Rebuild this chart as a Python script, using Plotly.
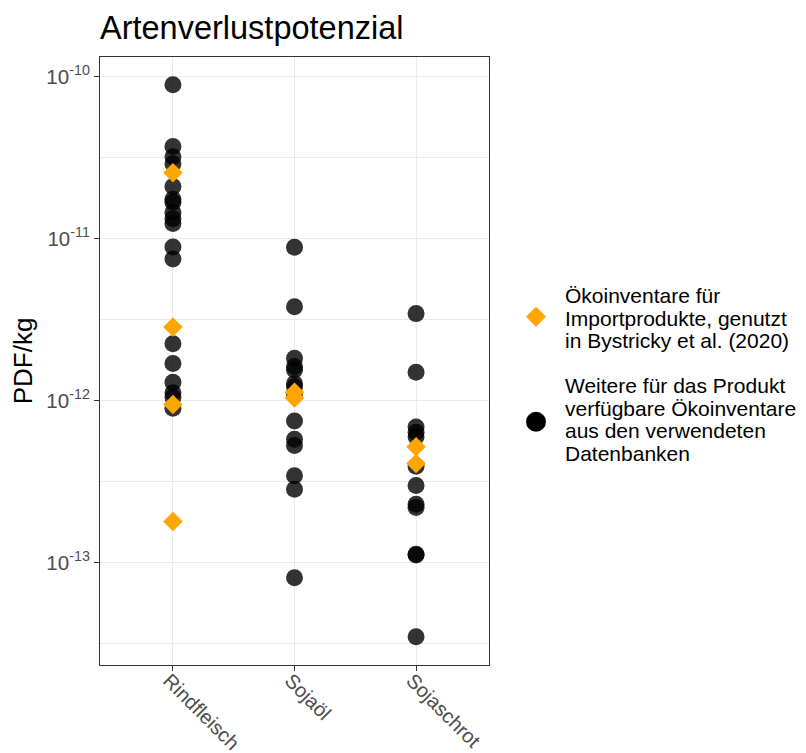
import plotly.graph_objects as go

categories = ["Rindfleisch", "Sojaöl", "Sojaschrot"]

# Weitere verfügbare Ökoinventare (black circles), PDF/kg
rind_other = [8.9e-11, 3.7e-11, 3.2e-11, 2.9e-11, 2.1e-11, 1.75e-11, 1.68e-11,
              1.45e-11, 1.33e-11, 1.24e-11, 8.9e-12, 7.5e-12, 2.25e-12, 1.7e-12,
              1.3e-12, 1.12e-12, 1.05e-12, 9.0e-13]
oel_other = [8.85e-12, 3.8e-12, 1.83e-12, 1.63e-12, 1.55e-12, 1.28e-12, 1.22e-12,
             1.1e-12, 7.5e-13, 5.8e-13, 5.3e-13, 3.45e-13, 2.85e-13, 8.1e-14]
schrot_other = [3.45e-12, 1.5e-12, 6.9e-13, 6.4e-13, 6.0e-13, 3.95e-13, 3.0e-13,
                2.3e-13, 2.2e-13, 1.13e-13, 1.12e-13, 3.5e-14]

# Ökoinventare für Importprodukte (Bystricky et al. 2020), orange diamonds
rind_import = [2.55e-11, 2.85e-12, 9.5e-13, 1.8e-13]
oel_import = [1.13e-12, 1.04e-12]
schrot_import = [5.2e-13, 4.1e-13]

y_tickvals = [1e-13, 1e-12, 1e-11, 1e-10]
y_ticktext = ["10<sup>-13</sup>", "10<sup>-12</sup>", "10<sup>-11</sup>", "10<sup>-10</sup>"]
y_minorvals = [10**-13.5, 10**-12.5, 10**-11.5, 10**-10.5]

legend_import_lines = ["Ökoinventare für", "Importprodukte, genutzt",
                       "in Bystricky et al. (2020)"]
legend_other_lines = ["Weitere für das Produkt", "verfügbare Ökoinventare",
                      "aus den verwendeten", "Datenbanken"]

FONT = "Liberation Sans, Arial, Helvetica, sans-serif"
W, H = 806, 753
ML, MR, MT, MB = 100, 317, 57, 88
PW, PH = W - ML - MR, H - MT - MB


def px_x(px):
    return (px - ML) / PW


def px_y(py):
    return (H - MB - py) / PH


other_x = ([categories[0]] * len(rind_other) + [categories[1]] * len(oel_other)
           + [categories[2]] * len(schrot_other))
other_y = rind_other + oel_other + schrot_other
imp_x = ([categories[0]] * len(rind_import) + [categories[1]] * len(oel_import)
         + [categories[2]] * len(schrot_import))
imp_y = rind_import + oel_import + schrot_import

fig = go.Figure()
fig.add_trace(go.Scatter(x=other_x, y=other_y, mode="markers", showlegend=False,
                         name="Weitere Ökoinventare",
                         marker=dict(color="black", opacity=0.8, size=17, symbol="circle",
                                     line=dict(width=0))))
fig.add_trace(go.Scatter(x=imp_x, y=imp_y, mode="markers", showlegend=False,
                         name="Ökoinventare für Importprodukte",
                         marker=dict(color="#FFA500", opacity=1, size=15, symbol="diamond",
                                     line=dict(width=0))))

# manual legend (keys as shapes, text lines as annotations)
shapes = []
kx = 536
dy0 = 316.7
shapes.append(dict(type="path", xref="paper", yref="paper",
                   path=(f"M {px_x(kx-10)} {px_y(dy0)} L {px_x(kx)} {px_y(dy0-10)} "
                         f"L {px_x(kx+10)} {px_y(dy0)} L {px_x(kx)} {px_y(dy0+10)} Z"),
                   fillcolor="#FFA500", line=dict(width=0), layer="above"))
cy0 = 421.7
shapes.append(dict(type="circle", xref="paper", yref="paper",
                   x0=px_x(kx-10), x1=px_x(kx+10), y0=px_y(cy0+10), y1=px_y(cy0-10),
                   fillcolor="black", line=dict(width=0), layer="above"))

annotations = []
LEG_FS = 21
line_gap = 22.5
for i, t in enumerate(legend_import_lines):
    base = 303.3 + i * line_gap
    annotations.append(dict(text=t, xref="paper", yref="paper", x=px_x(563),
                            y=px_y(base - 0.36 * LEG_FS), xanchor="left", yanchor="middle",
                            showarrow=False, font=dict(size=LEG_FS, color="black")))
for i, t in enumerate(legend_other_lines):
    base = 393.3 + i * line_gap
    annotations.append(dict(text=t, xref="paper", yref="paper", x=px_x(563),
                            y=px_y(base - 0.36 * LEG_FS), xanchor="left", yanchor="middle",
                            showarrow=False, font=dict(size=LEG_FS, color="black")))

fig.update_layout(
    width=W, height=H,
    margin=dict(l=ML, r=MR, t=MT, b=MB, autoexpand=False),
    paper_bgcolor="white", plot_bgcolor="white",
    font=dict(family=FONT, color="black"),
    showlegend=False,
    title=dict(text="Artenverlustpotenzial", font=dict(size=32.5, color="black"),
               x=0, xref="paper", xanchor="left",
               y=1 - 28 / H, yref="container", yanchor="middle"),
    shapes=shapes,
    annotations=annotations,
)
fig.update_xaxes(
    type="category", categoryorder="array", categoryarray=categories,
    range=[-0.6, 2.6], automargin=False,
    showgrid=True, gridcolor="#EBEBEB", gridwidth=1.1,
    showline=True, mirror=True, linecolor="#333333", linewidth=1,
    ticks="outside", ticklen=5, tickcolor="#333333", tickwidth=1,
    tickangle=45, tickfont=dict(size=20, color="#4D4D4D"),
    ticklabelstandoff=-10, ticklabelshift=-4,
    zeroline=False,
)
fig.update_yaxes(
    type="log", range=[-13.63, -9.879], automargin=False,
    tickmode="array", tickvals=y_tickvals, ticktext=y_ticktext,
    showgrid=True, gridcolor="#EBEBEB", gridwidth=1.1,
    minor=dict(tickmode="array", tickvals=y_minorvals, showgrid=True,
               gridcolor="#EBEBEB", gridwidth=0.55, ticks=""),
    showline=True, mirror=True, linecolor="#333333", linewidth=1,
    ticks="outside", ticklen=5, tickcolor="#333333", tickwidth=1,
    tickfont=dict(size=20.5, color="#4D4D4D"),
    title=dict(text="PDF/kg", font=dict(size=26, color="black"), standoff=6),
    zeroline=False,
)

fig.write_html("out.html", config={"displayModeBar": False},
               post_script="document.body.style.margin='0';")
